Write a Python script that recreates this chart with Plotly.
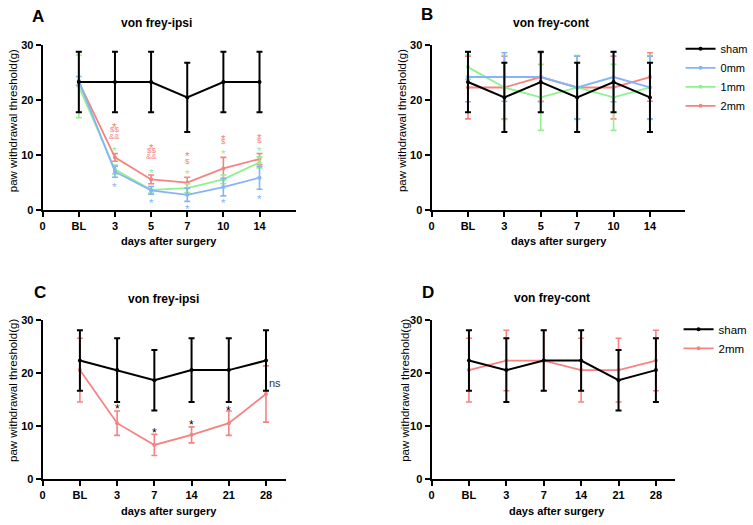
import plotly.graph_objects as go

# ---------------- data ----------------
cats_AB = ["0", "BL", "3", "5", "7", "10", "14"]
days_AB = ["BL", "3", "5", "7", "10", "14"]
cats_CD = ["0", "BL", "3", "7", "14", "21", "28"]
days_CD = ["BL", "3", "7", "14", "21", "28"]

# Panel A (ipsi)
A_sham = [23.3, 23.3, 23.3, 20.5, 23.3, 23.3]
A_sham_err = [5.5, 5.5, 5.5, 6.3, 5.5, 5.5]
A_0mm = [23.5, 7.0, 3.6, 2.8, 4.2, 5.9]
A_0mm_err = [0.8, 1.0, 0.7, 1.2, 1.6, 2.1]
A_1mm = [22.5, 7.4, 3.7, 4.0, 5.6, 8.7]
A_1mm_err = [5.7, 0.8, 0.6, 0.8, 0.8, 1.0]
A_2mm = [23.3, 9.6, 5.6, 5.0, 7.6, 9.3]
A_2mm_err = [5.5, 0.7, 0.8, 1.0, 2.0, 1.0]

# Panel B (cont)
B_sham = [23.3, 20.5, 23.3, 20.5, 23.3, 20.5]
B_sham_err = [5.5, 6.3, 5.5, 6.3, 5.5, 6.3]
B_0mm = [24.2, 24.2, 24.2, 22.3, 24.2, 22.3]
B_0mm_err = [4.5, 4.4, 4.5, 5.7, 4.5, 5.7]
B_1mm = [26.0, 22.3, 20.5, 22.3, 20.5, 22.3]
B_1mm_err = [2.2, 5.8, 6.0, 5.8, 6.0, 5.8]
B_2mm = [22.3, 22.3, 24.2, 22.3, 22.3, 24.2]
B_2mm_err = [5.7, 5.7, 4.4, 5.7, 5.7, 4.4]

# Panel C (ipsi)
C_sham = [22.3, 20.5, 18.6, 20.5, 20.5, 22.3]
C_sham_err = [5.7, 6.0, 5.7, 6.0, 6.0, 5.7]
C_2mm = [20.5, 10.5, 6.4, 8.3, 10.5, 16.0]
C_2mm_err = [6.0, 2.3, 2.0, 1.5, 2.3, 5.3]

# Panel D (cont)
D_sham = [22.3, 20.5, 22.3, 22.3, 18.6, 20.5]
D_sham_err = [5.7, 6.0, 5.7, 5.7, 5.7, 6.0]
D_2mm = [20.5, 22.3, 22.3, 20.5, 20.5, 22.3]
D_2mm_err = [6.0, 5.7, 5.7, 6.0, 6.0, 5.7]

# significance marks, panel A
A_sig_day = ["3", "3", "3", "3", "3",
             "5", "5", "5", "5", "5",
             "7", "7", "7", "7",
             "10", "10", "10", "10",
             "14", "14", "14", "14"]
A_sig_val = [15.7, 14.6, 13.4, 11.4, 4.8,
             12.0, 10.8, 9.7, 7.4, 2.0,
             10.4, 8.8, 7.2, 0.9,
             13.6, 12.4, 10.8, 1.9,
             13.8, 12.6, 11.4, 2.7]
A_sig_text = ["*", "$$", "&&", "*", "*",
              "*", "$$", "&&", "*", "*",
              "*", "$", "*", "*",
              "*", "$", "*", "*",
              "*", "$", "*", "*"]
A_sig_group = ["2mm", "2mm", "2mm", "1mm", "0mm",
               "2mm", "2mm", "2mm", "1mm", "0mm",
               "2mm", "2mm", "1mm", "0mm",
               "2mm", "2mm", "1mm", "0mm",
               "2mm", "2mm", "1mm", "0mm"]

# significance marks, panel C
C_sig_day = ["3", "7", "14", "21"]
C_sig_val = [13.8, 9.2, 10.7, 13.3]
C_ns_day = "28"
C_ns_val = 18.0

# ---------------- style ----------------
COL = {"sham": "#000000", "0mm": "#86B4F6", "1mm": "#8EF28E", "2mm": "#F78282"}
FONT = "Liberation Sans, Arial, sans-serif"

fig = go.Figure()


def add_series(x, y, err, name, xa, ya, legend, show):
    black = name == "sham"
    fig.add_trace(go.Scatter(
        x=x, y=y, name=name, mode="lines+markers",
        line=dict(color=COL[name], width=2 if black else 1.8),
        marker=dict(color=COL[name], size=4),
        error_y=dict(type="data", array=err, visible=True, color=COL[name],
                     thickness=2 if black else 1.6, width=3),
        xaxis=xa, yaxis=ya, legend=legend, showlegend=show,
        legendrank={"sham": 1, "0mm": 2, "1mm": 3, "2mm": 4}[name],
    ))


# Panel A
add_series(days_AB, A_2mm, A_2mm_err, "2mm", "x", "y", "legend", False)
add_series(days_AB, A_1mm, A_1mm_err, "1mm", "x", "y", "legend", False)
add_series(days_AB, A_0mm, A_0mm_err, "0mm", "x", "y", "legend", False)
add_series(days_AB, A_sham, A_sham_err, "sham", "x", "y", "legend", False)
# Panel B
add_series(days_AB, B_2mm, B_2mm_err, "2mm", "x2", "y2", "legend", True)
add_series(days_AB, B_1mm, B_1mm_err, "1mm", "x2", "y2", "legend", True)
add_series(days_AB, B_0mm, B_0mm_err, "0mm", "x2", "y2", "legend", True)
add_series(days_AB, B_sham, B_sham_err, "sham", "x2", "y2", "legend", True)
# Panel C
add_series(days_CD, C_2mm, C_2mm_err, "2mm", "x3", "y3", "legend2", False)
add_series(days_CD, C_sham, C_sham_err, "sham", "x3", "y3", "legend2", False)
# Panel D
add_series(days_CD, D_2mm, D_2mm_err, "2mm", "x4", "y4", "legend2", True)
add_series(days_CD, D_sham, D_sham_err, "sham", "x4", "y4", "legend2", True)

W, H = 753, 525


def px_x(p):
    return p / W


def px_y(p):
    return 1 - p / H


xcommon = dict(type="category", showline=True, linecolor="black", linewidth=2,
               ticks="outside", ticklen=5, tickwidth=2, tickcolor="black",
               showgrid=False, zeroline=False,
               tickfont=dict(family=FONT, size=11, color="black", weight="bold"))
ycommon = dict(range=[0, 30], tickvals=[0, 10, 20, 30], showline=True,
               linecolor="black", linewidth=2, ticks="outside", ticklen=5,
               tickwidth=2, tickcolor="black", showgrid=False, zeroline=False,
               tickfont=dict(family=FONT, size=11, color="black", weight="bold"))

layout = dict(
    width=W, height=H, margin=dict(l=0, r=0, t=0, b=0),
    paper_bgcolor="white", plot_bgcolor="white",
    font=dict(family=FONT, color="black"),
    xaxis=dict(xcommon, domain=[px_x(40), px_x(295)], categoryarray=cats_AB,
               categoryorder="array", range=[0, 7.0], anchor="y"),
    yaxis=dict(ycommon, domain=[px_y(209), px_y(40)], anchor="x"),
    xaxis2=dict(xcommon, domain=[px_x(432), px_x(687)], categoryarray=cats_AB,
                categoryorder="array", range=[0, 6.95], anchor="y2"),
    yaxis2=dict(ycommon, domain=[px_y(209), px_y(40)], anchor="x2"),
    xaxis3=dict(xcommon, domain=[px_x(40), px_x(285)], categoryarray=cats_CD,
                categoryorder="array", range=[0, 6.53], anchor="y3"),
    yaxis3=dict(ycommon, domain=[px_y(484), px_y(321)], anchor="x3"),
    xaxis4=dict(xcommon, domain=[px_x(432), px_x(677)], categoryarray=cats_CD,
                categoryorder="array", range=[0, 6.5], anchor="y4"),
    yaxis4=dict(ycommon, domain=[px_y(484), px_y(321)], anchor="x4"),
    legend=dict(x=px_x(683), y=px_y(29), xanchor="left", yanchor="top",
                font=dict(family=FONT, size=11, color="black"),
                bgcolor="rgba(0,0,0,0)", traceorder="normal"),
    legend2=dict(x=px_x(681), y=px_y(316), xanchor="left", yanchor="top",
                 font=dict(family=FONT, size=11.5, color="black"),
                 bgcolor="rgba(0,0,0,0)", traceorder="normal"),
)
fig.update_layout(**layout)

ann = []


def paper_text(x, y, text, size, bold=True, angle=0):
    ann.append(dict(x=px_x(x), y=px_y(y), xref="paper", yref="paper",
                    text=text, showarrow=False, textangle=angle,
                    xanchor="center", yanchor="middle",
                    font=dict(family=FONT, size=size, color="black",
                              weight="bold" if bold else "normal")))


# panel letters and titles
paper_text(35, 11, "A", 17)
paper_text(427, 9, "B", 17)
paper_text(37, 293, "C", 17)
paper_text(428, 293, "D", 17)
paper_text(155, 17, "von frey-ipsi", 12)
paper_text(552, 17, "von frey-cont", 12)
paper_text(162, 300, "von frey-ipsi", 12)
paper_text(553, 299, "von frey-cont", 12)
# axis titles
for cx, cy in [(167, 240), (560, 240), (167, 517), (558, 517)]:
    paper_text(cx, cy, "days after surgery", 11, bold=True)
for cx, cy in [(10, 117), (403, 117), (10, 393), (405, 393)]:
    paper_text(cx, cy, "paw withdrawal threshold(g)", 11.5, bold=False, angle=-90)

# significance marks A (x given as category index on the category axis)
for d, v, t, g in zip(A_sig_day, A_sig_val, A_sig_text, A_sig_group):
    star = t == "*"
    ann.append(dict(x=cats_AB.index(d), y=v, xref="x", yref="y", text=t,
                    showarrow=False, xanchor="center", yanchor="middle",
                    yshift=-3.5 if star else 0,
                    font=dict(family=FONT, size=11.5 if star else 8,
                              color=COL[g])))
# significance marks C
for d, v in zip(C_sig_day, C_sig_val):
    ann.append(dict(x=cats_CD.index(d), y=v, xref="x3", yref="y3", text="*",
                    showarrow=False, xanchor="center", yanchor="middle",
                    yshift=-3, font=dict(family=FONT, size=12, color="black")))
ann.append(dict(x=cats_CD.index(C_ns_day), y=C_ns_val, xref="x3", yref="y3",
                text="ns", showarrow=False, xanchor="left", yanchor="middle",
                xshift=1, font=dict(family=FONT, size=11, color="#333333")))

fig.update_layout(annotations=ann)
fig.write_html("out.html", config={"displayModeBar": False},
               post_script="document.body.style.margin='0';"
                           "document.body.style.padding='0';")
